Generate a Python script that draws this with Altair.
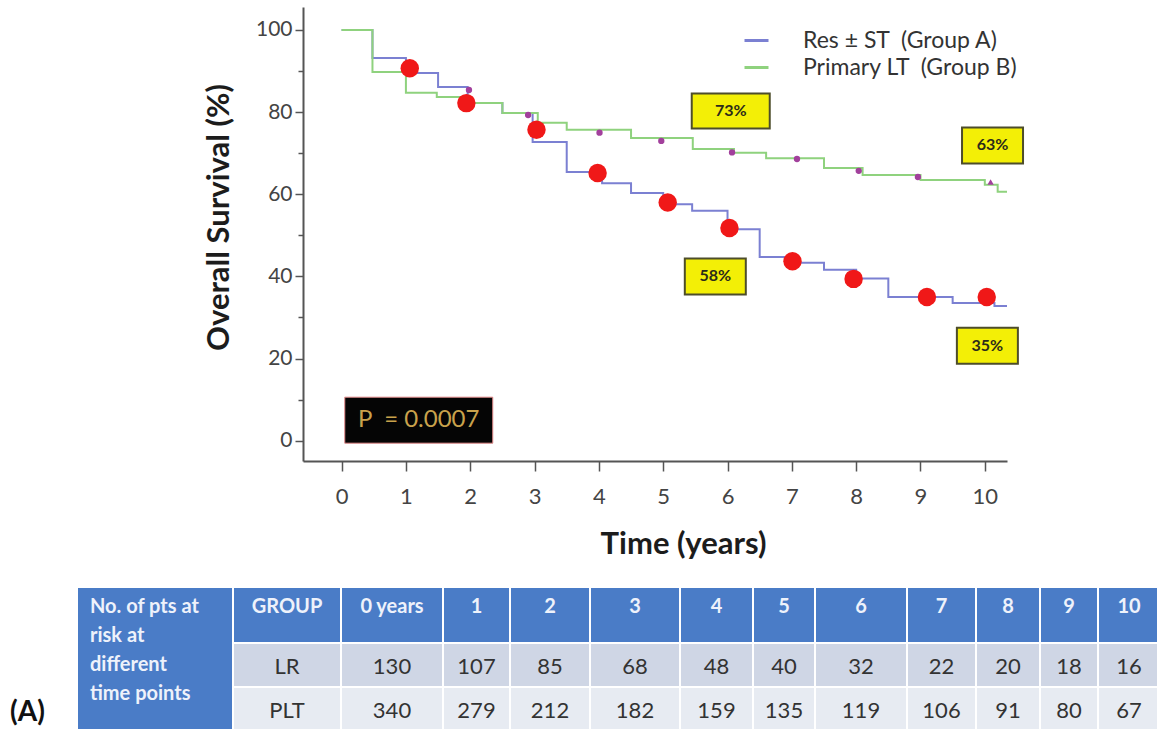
import altair as alt
import pandas as pd

FONT = "Lato"

# ---- Kaplan-Meier step curves: time (years) and overall survival (%) ----
GROUPS = ["Res ± ST\u00a0\u00a0(Group A)", "Primary LT\u00a0\u00a0(Group B)"]

group_a_time = [0, 0.48, 1.0, 1.5, 1.96, 2.5, 2.97, 3.5, 4.05, 4.5, 5.0, 5.45,
                6.0, 6.5, 7.1, 7.5, 8.0, 8.5, 9.5, 10.15, 10.345]
group_a_surv = [100, 93.2, 89.5, 86.1, 82.2, 79.8, 72.7, 65.4, 62.7, 60.3, 57.6, 56.0,
                51.5, 44.7, 43.3, 41.6, 39.5, 35.0, 33.5, 32.8, 32.8]

group_b_time = [0, 0.48, 1.0, 1.48, 1.96, 2.5, 3.05, 3.5, 4.5, 5.46, 6.1, 6.6,
                7.5, 8.1, 9.0, 10.0, 10.2, 10.345]
group_b_surv = [100, 89.8, 84.7, 83.7, 82.2, 79.8, 77.4, 75.7, 73.7, 71.0, 70.1, 68.8,
                66.4, 64.7, 63.5, 62.3, 60.6, 60.6]

# ---- survival quoted at 5 and 10 years ----
milestone_text = ["73%", "63%", "58%", "35%"]
milestone_value = [73, 63, 58, 35]
milestone_group = ["B", "B", "A", "A"]
milestone_year = [5, 10, 5, 10]
milestone_box_x = [6.05, 10.12, 5.81, 10.04]
milestone_box_y = [80.3, 71.9, 40.0, 23.1]
quoted = {(g, y): v for g, y, v in zip(milestone_group, milestone_year, milestone_value)}

# ---- yearly markers on each curve ----
marker_a_year = [1.06, 1.94, 3.03, 3.98, 5.07, 6.03, 7.01, 7.96, 9.10, 10.03]
marker_a_surv = [90.7, 82.2, 75.7, 65.2, quoted[("A", 5)], 51.8, 43.7, 39.4, 35.0, quoted[("A", 10)]]
marker_b_year = [1.98, 2.90, 4.01, 4.97, 6.07, 7.08, 8.04, 8.96, 10.09]
marker_b_surv = [85.4, 79.3, 75.0, quoted[("B", 5)], 70.2, 68.6, 65.7, 64.2, quoted[("B", 10)]]
marker_b_shape = ["circle"] * 8 + ["triangle-up"]

p_value_text = "P\u00a0 = 0.0007"
p_value_pos = (1.20, 5.0)

# ---- number at risk table ----
header_labels = ["GROUP", "0 years", "1", "2", "3", "4", "5", "6", "7", "8", "9", "10"]
row_groups = ["LR", "PLT"]
lr_counts = [130, 107, 85, 68, 48, 40, 32, 22, 20, 18, 16]
plt_counts = [340, 279, 212, 182, 159, 135, 119, 106, 91, 80, 67]
stub_lines = ["No. of pts at", "risk at", "different", "time points"]
panel_tag = "(A)"

# table layout (page pixels)
col_edges = [77, 233, 341, 443, 510, 590, 680, 753, 815, 907, 976, 1040, 1098, 1160]
row_edges = [587, 643, 687, 731]

BLUE = "#7b80d2"
GREEN = "#8fd27e"
HEADER_BLUE = "#4a7cc7"
ROW_DARK = "#cfd6e5"
ROW_LIGHT = "#e7ebf2"

# ---------------------------------------------------------------- KM plot
km = pd.concat([
    pd.DataFrame({"t": group_a_time, "s": group_a_surv, "group": GROUPS[0]}),
    pd.DataFrame({"t": group_b_time, "s": group_b_surv, "group": GROUPS[1]}),
])

x_scale = alt.Scale(domain=[-0.60, 10.345], nice=False, zero=False)
y_scale = alt.Scale(domain=[-4.94, 105.6], nice=False, zero=False)

x_axis = alt.Axis(values=list(range(0, 11)), grid=False, tickSize=10, tickWidth=1.5,
                  labelFontSize=22, labelPadding=15, labelFont=FONT, labelColor="#444",
                  titleFont=FONT, titleFontSize=31, titleFontWeight="bold", titleColor="#1c1c1c",
                  titlePadding=22, titleX=380, domainWidth=2, domainColor="#555", tickColor="#555")
y_axis = alt.Axis(values=list(range(0, 101, 10)), grid=False,
                  tickSize={"condition": {"test": "datum.value % 20 === 0", "value": 8}, "value": 5},
                  tickWidth=1.5, labelExpr="datum.value % 20 === 0 ? datum.label : ''",
                  labelFontSize=21, labelPadding=3, labelFont=FONT, labelColor="#444",
                  titleFont=FONT, titleFontSize=31, titleFontWeight="bold", titleColor="#1c1c1c",
                  titlePadding=20, titleY=210, domainWidth=2, domainColor="#555", tickColor="#555")


def X(field):
    return alt.X(field, type="quantitative", scale=x_scale, axis=x_axis, title="Time (years)")


def Y(field):
    return alt.Y(field, type="quantitative", scale=y_scale, axis=y_axis, title="Overall Survival (%)")


lines = alt.Chart(km).mark_line(interpolate="step-after", strokeWidth=2).encode(
    x=X("t"), y=Y("s"),
    color=alt.Color("group:N", scale=alt.Scale(domain=GROUPS, range=[BLUE, GREEN]),
                    legend=alt.Legend(title=None, orient="none", legendX=440, legendY=20,
                                      symbolType="stroke", symbolSize=576, symbolStrokeWidth=3,
                                      labelFont=FONT, labelFontSize=23, labelColor="#333",
                                      labelLimit=0, labelOffset=33, rowPadding=1, padding=0)),
)

markers_b = alt.Chart(pd.DataFrame({"t": marker_b_year, "s": marker_b_surv, "shape": marker_b_shape})).mark_point(
    filled=True, size=40, color="#a2409c", opacity=1).encode(
    x=X("t"), y=Y("s"), shape=alt.Shape("shape:N", scale=None))

markers_a = alt.Chart(pd.DataFrame({"t": marker_a_year, "s": marker_a_surv})).mark_circle(
    size=340, color="#f01818", opacity=1).encode(x=X("t"), y=Y("s"))

boxes = pd.DataFrame({"t": milestone_box_x, "s": milestone_box_y, "text": milestone_text})
wide_box = alt.Chart(boxes).transform_filter(alt.datum.text == "73%").mark_rect(
    width=78, height=35, fill="#f3ef06", stroke="#4d4d2a", strokeWidth=2).encode(x=X("t"), y=Y("s"))
narrow_box = alt.Chart(boxes).transform_filter(alt.datum.text != "73%").mark_rect(
    width=61, height=36, fill="#f3ef06", stroke="#4d4d2a", strokeWidth=2).encode(x=X("t"), y=Y("s"))
box_text = alt.Chart(boxes).mark_text(font=FONT, fontSize=16, fontWeight="bold", color="#2b2b1a").encode(
    x=X("t"), y=Y("s"), text="text:N")

pval = pd.DataFrame({"t": [p_value_pos[0]], "s": [p_value_pos[1]], "text": [p_value_text]})
p_box = alt.Chart(pval).mark_rect(width=148, height=46, fill="#050505", stroke="#e58a8a",
                                  strokeWidth=1).encode(x=X("t"), y=Y("s"))
p_text = alt.Chart(pval).mark_text(font=FONT, fontSize=24, color="#c9a24c").encode(
    x=X("t"), y=Y("s"), text="text:N")

km_layer = alt.layer(lines, markers_b, markers_a, wide_box, narrow_box, box_text, p_box, p_text)

# ---------------------------------------------------------------- table
cells = [dict(x0=col_edges[0], x1=col_edges[1], y0=row_edges[0], y1=row_edges[3], fill=HEADER_BLUE)]
for j in range(1, len(col_edges) - 1):
    for r, fill in enumerate([HEADER_BLUE, ROW_DARK, ROW_LIGHT]):
        cells.append(dict(x0=col_edges[j], x1=col_edges[j + 1],
                          y0=row_edges[r], y1=row_edges[r + 1], fill=fill))
cells = pd.DataFrame(cells)

head_rows, body_rows = [], []
for j, lab in enumerate(header_labels, start=1):
    xc = (col_edges[j] + col_edges[j + 1]) / 2
    head_rows.append(dict(x=xc, y=row_edges[0] + 20, text=lab))
    vals = row_groups if j == 1 else [str(lr_counts[j - 2]), str(plt_counts[j - 2])]
    for r, v in enumerate(vals):
        yc = (row_edges[r + 1] + row_edges[r + 2]) / 2 + 2
        body_rows.append(dict(x=xc, y=yc, text=v))
head_df = pd.DataFrame(head_rows)
body_df = pd.DataFrame(body_rows)

stub = pd.DataFrame({"x": [90] * len(stub_lines),
                     "y": [607 + 29 * i for i in range(len(stub_lines))],
                     "text": stub_lines})
tag = pd.DataFrame({"x": [10], "y": [713], "text": [panel_tag]})

tx = alt.Scale(domain=[0, 1157], range=[-303, 854], nice=False, zero=False)
ty = alt.Scale(domain=[0, 729], range=[-7, 722], nice=False, zero=False)


def TX(field):
    return alt.X(field, type="quantitative", scale=tx, axis=None)


def TY(field):
    return alt.Y(field, type="quantitative", scale=ty, axis=None)


table_cells = alt.Chart(cells).mark_rect(stroke="white", strokeWidth=2).encode(
    x=TX("x0"), x2="x1", y=TY("y0"), y2="y1", fill=alt.Fill("fill:N", scale=None))
head_text = alt.Chart(head_df).mark_text(font=FONT, fontSize=20, fontWeight="bold",
                                         color="#eef2fb").encode(x=TX("x"), y=TY("y"), text="text:N")
body_text = alt.Chart(body_df).mark_text(font=FONT, fontSize=22, color="#333333").encode(
    x=TX("x"), y=TY("y"), text="text:N")
stub_text = alt.Chart(stub).mark_text(font=FONT, fontSize=20, fontWeight="bold", align="left",
                                      color="#eef2fb").encode(x=TX("x"), y=TY("y"), text="text:N")
tag_text = alt.Chart(tag).mark_text(font=FONT, fontSize=28, fontWeight="bold", align="left",
                                    color="#111").encode(x=TX("x"), y=TY("y"), text="text:N")

table_layer = alt.layer(table_cells, head_text, body_text, stub_text, tag_text)

chart = alt.layer(km_layer, table_layer).resolve_scale(
    x="independent", y="independent"
).properties(
    width=704, height=454,
    autosize=alt.AutoSizeParams(type="none"),
    padding={"left": 303, "top": 7, "right": 150, "bottom": 268},
    background="white",
).configure_view(strokeWidth=0)

chart.save("out.html", embed_options={"renderer": "svg", "actions": False})
